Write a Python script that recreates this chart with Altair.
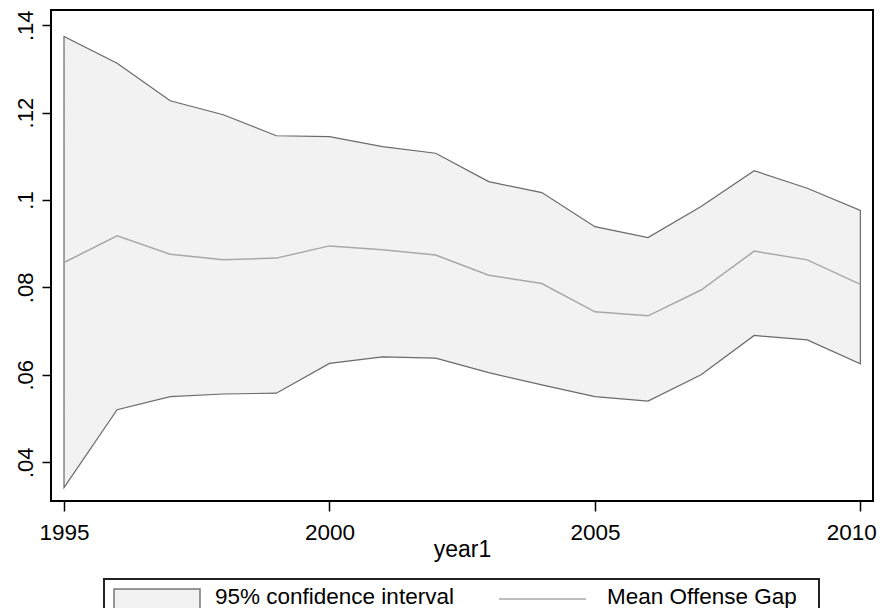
import altair as alt
import pandas as pd

years = list(range(1995, 2011))
upper = [0.1374, 0.1313, 0.1227, 0.1195, 0.1147, 0.1145, 0.1122, 0.1107,
         0.1042, 0.1017, 0.0939, 0.0914, 0.0985, 0.1067, 0.1027, 0.0976]
mean = [0.0857, 0.0918, 0.0876, 0.0863, 0.0867, 0.0895, 0.0886, 0.0874,
        0.0828, 0.0809, 0.0744, 0.0735, 0.0794, 0.0883, 0.0863, 0.0807]
lower = [0.0342, 0.0520, 0.0550, 0.0556, 0.0558, 0.0626, 0.0641, 0.0638,
         0.0605, 0.0577, 0.0550, 0.0540, 0.0600, 0.0690, 0.0680, 0.0625]
x_ticks = [1995, 2000, 2005, 2010]
y_ticks = [0.04, 0.06, 0.08, 0.10, 0.12, 0.14]
legend_labels = ["95% confidence interval", "Mean Offense Gap"]

df = pd.DataFrame({"year1": years, "upper": upper, "mean": mean, "lower": lower})

FONT = "Liberation Sans"

xscale = alt.Scale(domain=[1994.755, 2010.238], nice=False, zero=False)
yscale = alt.Scale(domain=[0.03112, 0.14348], nice=False, zero=False)

xaxis = alt.Axis(values=x_ticks, format="d", title="year1", grid=False, domain=False,
                 tickSize=10, tickWidth=1.5, tickColor="#000",
                 labelFont=FONT, labelFontSize=22.5, labelColor="#000",
                 labelBaseline="alphabetic", labelPadding=28, labelFlush=False,
                 labelOverlap=False,
                 labelOffset={"condition": {"test": "datum.value == 2010", "value": -9}, "value": 0},
                 titleFont=FONT, titleFontSize=23, titleFontWeight="normal",
                 titleColor="#000", titleBaseline="alphabetic", titleY=55.7)
yaxis = alt.Axis(values=y_ticks, title=None, grid=False, domain=False,
                 tickSize=9, tickWidth=1.5, tickColor="#000",
                 labelExpr="substring(format(datum.value, '.2~f'), 1)",
                 labelFont=FONT, labelFontSize=22, labelColor="#000",
                 labelAngle=270, labelAlign="center", labelBaseline="alphabetic",
                 labelPadding=10, labelFlush=False, labelOverlap=False)

base = alt.Chart(df)

band = base.mark_area(fill="#f2f2f2", stroke="#6a6a6a", strokeWidth=1.2).encode(
    x=alt.X("year1:Q", scale=xscale, axis=xaxis),
    y=alt.Y("lower:Q", scale=yscale, axis=yaxis),
    y2="upper:Q",
)

line = base.mark_line(color="#a8a8a8", strokeWidth=1.5).encode(
    x=alt.X("year1:Q", scale=xscale),
    y=alt.Y("mean:Q", scale=yscale),
)

one = pd.DataFrame({"k": [0]})
leg_box = alt.Chart(one).mark_rect(fill="white", stroke="#222", strokeWidth=2).encode(
    x=alt.value(53), x2=alt.value(768), y=alt.value(569), y2=alt.value(640))
leg_swatch = alt.Chart(one).mark_rect(fill="#f2f2f2", stroke="#777", strokeWidth=1.5).encode(
    x=alt.value(63), x2=alt.value(149), y=alt.value(579), y2=alt.value(600))
leg_line = alt.Chart(one).mark_rule(color="#a8a8a8", strokeWidth=1.5).encode(
    x=alt.value(448), x2=alt.value(535), y=alt.value(589))

leg_df = pd.DataFrame({"label": legend_labels, "px": [164, 556]})
leg_text = alt.Chart(leg_df).mark_text(font=FONT, fontSize=22.5, color="#000",
                                       align="left", baseline="alphabetic").encode(
    x=alt.X("px:Q", scale=None), y=alt.value(594), text="label:N")

chart = alt.layer(band, line, leg_box, leg_swatch, leg_line, leg_text).properties(
    width=822, height=491,
    autosize=alt.AutoSizeParams(type="none"),
    padding={"left": 43, "top": 2, "right": 6, "bottom": 107},
    background="white",
).configure_view(stroke="#000", strokeWidth=2)

chart.save("out.html", embed_options={"renderer": "svg", "actions": False})
